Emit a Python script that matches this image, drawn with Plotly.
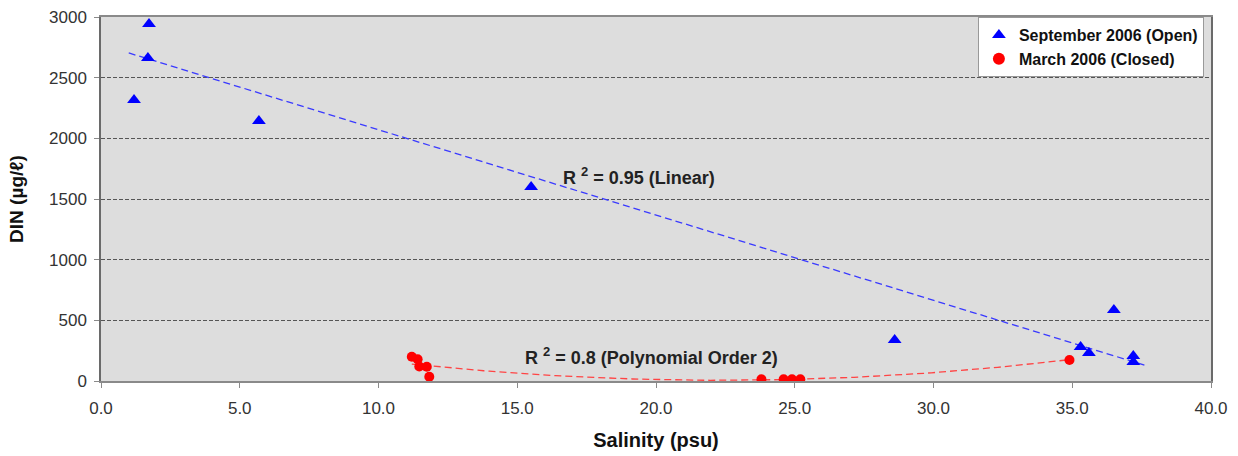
import numpy as np
import plotly.graph_objects as go

# September 2006 (mouth open)
sep_salinity = [1.19, 1.73, 1.69, 5.69, 15.5, 28.6, 36.5, 35.3, 35.6, 37.2, 37.2]
sep_din = [2316, 2943, 2663, 2143, 1599, 338, 585, 280, 231, 206, 157]

# March 2006 (mouth closed)
mar_salinity = [11.2, 11.41, 11.47, 11.74, 11.83, 23.8, 24.6, 24.9, 25.2, 34.9]
mar_din = [200, 179, 120, 118, 35, 14, 14, 14, 14, 173]

# Linear trendline reported for September: slope, intercept
sep_trend_coef = [-70.3, 2774]

x_ticks = [0, 5, 10, 15, 20, 25, 30, 35, 40]
y_ticks = [0, 500, 1000, 1500, 2000, 2500, 3000]

FONT = "Arial, Liberation Sans, sans-serif"
SUP = '<span style="font-size:13px">2</span>'

# Trend lines: linear for September, 2nd-order polynomial for March
lin_x = np.linspace(1.0, 37.6, 50)
lin_y = np.polyval(sep_trend_coef, lin_x)

poly = np.polyfit(mar_salinity, mar_din, 2)
poly_x = np.linspace(min(mar_salinity), max(mar_salinity), 120)
poly_y = np.polyval(poly, poly_x)

fig = go.Figure()

fig.add_trace(go.Scatter(
    x=lin_x, y=lin_y, mode="lines", showlegend=False, hoverinfo="skip",
    line=dict(color="#3a3aff", width=1.3, dash="7px,4px"),
))
fig.add_trace(go.Scatter(
    x=poly_x, y=poly_y, mode="lines", showlegend=False, hoverinfo="skip",
    line=dict(color="#ff4444", width=1.3, dash="7px,4px"),
))
fig.add_trace(go.Scatter(
    x=sep_salinity, y=sep_din, mode="markers", name="September 2006 (Open)",
    marker=dict(symbol="triangle-up", size=12, color="#0000ff"),
))
fig.add_trace(go.Scatter(
    x=mar_salinity, y=mar_din, mode="markers", name="March 2006 (Closed)",
    marker=dict(symbol="circle", size=10, color="#ff0000"),
))

fig.add_annotation(
    x=19.39, y=1690, xref="x", yref="y", showarrow=False,
    text=f"R <sup>{SUP}</sup> = 0.95 (Linear)",
    font=dict(family=FONT, size=18, color="#222222", weight="bold"),
)
fig.add_annotation(
    x=19.82, y=210, xref="x", yref="y", showarrow=False,
    text=f"R <sup>{SUP}</sup> = 0.8 (Polynomial Order 2)",
    font=dict(family=FONT, size=18, color="#222222", weight="bold"),
)

fig.update_layout(
    width=1238, height=456,
    margin=dict(l=101, r=27, t=17, b=75),
    paper_bgcolor="white",
    plot_bgcolor="#dddddd",
    font=dict(family=FONT, size=17, color="#333333"),
    legend=dict(
        x=0.790, y=1.0, xanchor="left", yanchor="top",
        bgcolor="white", bordercolor="#999999", borderwidth=1,
        font=dict(family=FONT, size=16, color="#111111", weight="bold"),
        itemsizing="constant", tracegroupgap=0,
    ),
    xaxis=dict(
        range=[0, 40], tickvals=x_ticks, tickformat=".1f",
        showgrid=False, zeroline=False, automargin=False,
        showline=True, mirror=True, linecolor="#8a8a8a", linewidth=1.5,
        ticks="outside", ticklen=5, tickcolor="#8a8a8a",
        ticklabelstandoff=6,
        tickfont=dict(family=FONT, size=17, color="#333333"),
        title=dict(text="Salinity (psu)", standoff=16,
                   font=dict(family=FONT, size=20, color="#111111", weight="bold")),
    ),
    yaxis=dict(
        range=[0, 3000], tickvals=y_ticks,
        showgrid=True, gridcolor="#555555", gridwidth=1, griddash="4px,2px",
        zeroline=False, automargin=False,
        showline=True, mirror=True, linecolor="#6a6a6a", linewidth=1.5,
        ticks="outside", ticklen=5, tickcolor="#8a8a8a",
        ticklabelstandoff=4,
        tickfont=dict(family=FONT, size=17, color="#333333"),
        title=dict(text="DIN (µg/ℓ)", standoff=20,
                   font=dict(family=FONT, size=19, color="#111111", weight="bold")),
    ),
)

fig.write_html("out.html")
